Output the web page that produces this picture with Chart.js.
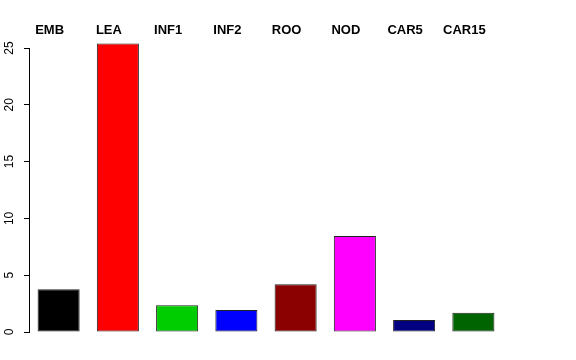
<!DOCTYPE html>
<html>
<head>
<meta charset="utf-8">
<script src="https://cdn.jsdelivr.net/npm/chart.js@4"></script>
<style>
  body { margin: 0; background: #fff; }
  canvas { display: block; }
</style>
</head>
<body>
<canvas id="canvas" width="576" height="360"></canvas>
<script>
/* Data. */
const tissues = ["EMB", "LEA", "INF1", "INF2", "ROO", "NOD", "CAR5", "CAR15"]
const values = [3.77, 25.4, 2.36, 1.94, 4.21, 8.45, 1.06, 1.70]
const barColors = ["#000000", "#FF0000", "#00CD00", "#0000FF", "#8B0000", "#FF00FF", "#000080", "#006400"]
const yTicks = [0, 5, 10, 15, 20, 25]

Chart.defaults.font.family = "'Liberation Sans', Arial, Helvetica, sans-serif"
Chart.defaults.color = "#000"

const ctx = document.getElementById("canvas").getContext("2d")
const chart = new Chart(ctx, {
  type: "bar",
  data: {
    labels: tissues,
    datasets: [{
      data: values,
      backgroundColor: barColors,
      borderColor: "#222",
      borderWidth: 1,
      borderSkipped: false,
      barPercentage: 0.71,
      categoryPercentage: 1,
      clip: false
    }]
  },
  options: {
    responsive: false,
    animation: false,
    layout: {
      padding: { left: 0, right: 73, top: 0, bottom: 28 }
    },
    plugins: {
      legend: { display: false },
      tooltip: { enabled: false }
    },
    scales: {
      x: {
        position: "top",
        grid: { display: false, drawTicks: false },
        border: { display: false },
        ticks: {
          padding: 10,
          labelOffset: -9,
          maxRotation: 0,
          autoSkip: false,
          font: { size: 13, weight: "bold" }
        },
        afterFit: scale => { scale.height = 48 }
      },
      y: {
        min: 0,
        max: 25,
        afterBuildTicks: scale => {
          scale.ticks = yTicks.map(v => ({ value: v }))
        },
        grid: {
          drawOnChartArea: false,
          drawTicks: true,
          tickLength: 5,
          color: "#000"
        },
        border: { display: true, color: "#000" },
        ticks: {
          minRotation: 90,
          maxRotation: 90,
          crossAlign: "center",
          padding: 8,
          font: { size: 12 }
        },
        afterFit: scale => { scale.width = 29 }
      }
    }
  }
})
</script>
</body>
</html>
